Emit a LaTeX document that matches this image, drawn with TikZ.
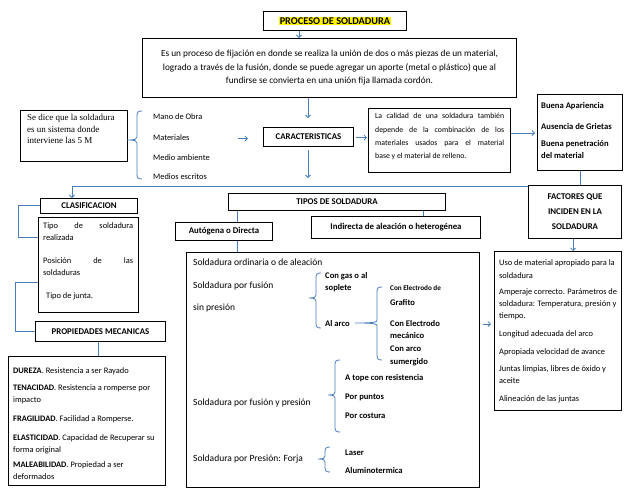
\documentclass[tikz,border=0pt]{standalone}
\usepackage{fontspec}
\setmainfont{Carlito}
\newfontfamily\serifm{Liberation Serif}
\usetikzlibrary{arrows.meta}
\definecolor{lnk}{RGB}{74,126,187}
\newcommand\mybrace[5]{%
  \draw[conn] ({#1+5},#2) .. controls ({#1+1},#2) and (#1,{#2+1}) .. (#1,{#2+5})
    -- (#1,{#3-3}) .. controls (#1,{#3-1}) and ({#1-1},#3) .. (#5,#3)
    .. controls ({#1-1},#3) and (#1,{#3+1}) .. (#1,{#3+3})
    -- (#1,{#4-5}) .. controls (#1,{#4-1}) and ({#1+1},#4) .. ({#1+5},#4);}
\begin{document}
\begin{tikzpicture}[x=1pt,y=-1pt,
  box/.style={draw=black,line width=1pt,inner sep=0pt,anchor=north west,align=center},
  conn/.style={draw=lnk,line width=0.8pt},
  arr/.style={conn,-{Straight Barb[length=2.5pt,width=5pt]}},
  tx/.style={anchor=base west,inner sep=0pt},
  hd/.style={font=\fontsize{8.8}{10}\selectfont\bfseries},
  bd/.style={font=\fontsize{9.5}{11}\selectfont},
  sm/.style={font=\fontsize{8.4}{10}\selectfont},
  sb/.style={font=\fontsize{8.6}{10}\selectfont\bfseries},
  cs/.style={font=\fontsize{7.8}{9}\selectfont},
]
\useasboundingbox (0,0) rectangle (638,493);

% ---------- top ----------
\node[box,minimum width=143pt,minimum height=19pt,font=\fontsize{10.3}{12}\selectfont\bfseries] (proc) at (263,11)
  {\setlength\fboxsep{0.6pt}\colorbox{yellow}{PROCESO DE SOLDADURA}};
\node[box,minimum width=374pt,minimum height=59pt,font=\fontsize{9.3}{13.5}\selectfont] (desc) at (142,38)
  {Es un proceso de fijación en donde se realiza la unión de dos o más piezas de un material,\\
   logrado a través de la fusión, donde se puede agregar un aporte (metal o plástico) que al\\
   fundirse se convierta en una unión fija llamada cordón.};

% ---------- 5M ----------
\node[box,minimum width=107pt,minimum height=51pt] (fivem) at (20,110) {};
\node[tx,font=\serifm\fontsize{9}{10}\selectfont] (fm1) at (27,120.5) {Se dice que la soldadura};
\node[tx,font=\serifm\fontsize{9}{10}\selectfont] (fm2) at (27,132) {es un sistema donde};
\node[tx,font=\serifm\fontsize{9}{10}\selectfont] (fm3) at (27,143.5) {interviene las 5 M};
\node[tx,sm] (m1) at (153,119.5) {Mano de Obra};
\node[tx,sm] (m2) at (153,140.5) {Materiales};
\node[tx,sm] (m3) at (153,160.5) {Medio ambiente};
\node[tx,sm] (m4) at (153,179.5) {Medios escritos};

% ---------- caracteristicas ----------
\node[box,minimum width=90pt,minimum height=19pt,hd] (carac) at (263,127) {CARACTERISTICAS};
\node[box,minimum width=142pt,minimum height=64pt] (cal) at (368,108) {};
\node[tx,cs] (cal1) at (375,118.5) {\makebox[129pt][s]{La calidad de una soldadura también}};
\node[tx,cs] (cal2) at (375,132) {\makebox[129pt][s]{depende de la combinación de los}};
\node[tx,cs] (cal3) at (375,145.5) {\makebox[129pt][s]{materiales usados para el material}};
\node[tx,cs] (cal4) at (375,158.5) {base y el material de relleno.};

\node[box,minimum width=85pt,minimum height=76pt] (buena) at (537,94) {};
\node[tx,sb] (b1) at (541,108) {Buena Apariencia};
\node[tx,sb] (b2) at (541,129) {Ausencia de Grietas};
\node[tx,sb] (b3) at (541,146) {Buena penetración};
\node[tx,sb] (b4) at (541,158.5) {del material};

\node[box,minimum width=93pt,minimum height=53pt,font=\fontsize{8.8}{15}\selectfont\bfseries] (fac) at (528,185)
  {FACTORES QUE\\INCIDEN EN LA\\SOLDADURA};

\node[box,minimum width=127pt,minimum height=159pt] (uso) at (494,251) {};
\node[tx,sm] (u1) at (499,265) {Uso de material apropiado para la};
\node[tx,sm] (u2) at (499,278) {soldadura};
\node[tx,sm] (u3) at (499,294.5) {Amperaje correcto. Parámetros de};
\node[tx,sm] (u4) at (499,306) {soldadura: Temperatura, presión y};
\node[tx,sm] (u5) at (499,318) {tiempo.};
\node[tx,sm] (u6) at (499,336) {Longitud adecuada del arco};
\node[tx,sm] (u7) at (499,354.5) {Apropiada velocidad de avance};
\node[tx,sm] (u8) at (499,371) {Juntas limpias, libres de óxido y};
\node[tx,sm] (u9) at (499,383.5) {aceite};
\node[tx,sm] (u10) at (499,401) {Alineación de las juntas};

% ---------- tipos ----------
\node[box,minimum width=217pt,minimum height=17pt,hd] (tipos) at (228,193) {TIPOS DE SOLDADURA};
\node[box,minimum width=97pt,minimum height=18pt,hd] (auto) at (175,222) {Autógena o Directa};
\node[box,minimum width=169pt,minimum height=22pt,hd] (indi) at (311,216) {Indirecta de aleación o heterogénea};
\node[box,minimum width=293pt,minimum height=235pt] (big) at (186,252) {};

\node[tx,bd] (s1) at (193,265) {Soldadura ordinaria o de aleación};
\node[tx,bd] (s2) at (193,288) {Soldadura por fusión};
\node[tx,bd] (s3) at (193,310) {sin presión};
\node[tx,sb] (g1) at (325,278) {Con gas o al};
\node[tx,sb] (g2) at (325,290) {soplete};
\node[tx,sb] (g3) at (325,326) {Al arco};
\node[tx,font=\fontsize{7.2}{8}\selectfont\bfseries] (e1) at (390,290) {Con Electrodo de};
\node[tx,sb] (e2) at (390,305) {Grafito};
\node[tx,sb] (e3) at (390,326) {Con Electrodo};
\node[tx,sb] (e4) at (390,338) {mecánico};
\node[tx,sb] (e5) at (390,351) {Con arco};
\node[tx,sb] (e6) at (390,364) {sumergido};
\node[tx,sb] (p1) at (345,380) {A tope con resistencia};
\node[tx,sb] (p2) at (345,399) {Por puntos};
\node[tx,sb] (p3) at (345,418) {Por costura};
\node[tx,bd] (s4) at (193,405) {Soldadura por fusión y presión};
\node[tx,bd] (s5) at (193,461) {Soldadura por Presión: Forja};
\node[tx,sb] (l1) at (345,455) {Laser};
\node[tx,sb] (l2) at (345,473) {Aluminotermica};

% ---------- clasificacion ----------
\node[box,minimum width=97pt,minimum height=15pt,hd] (clas) at (40,198) {CLASIFICACION};
\node[box,minimum width=100pt,minimum height=95pt] (clasc) at (38,217) {};
\node[tx,sm] (c1) at (43,228) {\makebox[90pt][s]{Tipo de soldadura}};
\node[tx,sm] (c2) at (43,240) {realizada};
\node[tx,sm] (c3) at (43,263) {\makebox[90pt][s]{Posición de las}};
\node[tx,sm] (c4) at (43,275) {soldaduras};
\node[tx,sm] (c5) at (46,298) {Tipo de junta.};

\node[box,minimum width=130pt,minimum height=20pt,hd] (prop) at (35,321) {PROPIEDADES MECANICAS};
\node[box,minimum width=157pt,minimum height=129pt] (propc) at (8,356) {};
\node[tx,sm] (r1) at (13,373) {\textbf{DUREZA}. Resistencia a ser Rayado};
\node[tx,sm] (r2) at (13,390) {\textbf{TENACIDAD}. Resistencia a romperse por};
\node[tx,sm] (r3) at (13,402.5) {impacto};
\node[tx,sm] (r4) at (13,421.5) {\textbf{FRAGILIDAD}. Facilidad a Romperse.};
\node[tx,sm] (r5) at (13,440) {\textbf{ELASTICIDAD}. Capacidad de Recuperar su};
\node[tx,sm] (r6) at (13,452) {forma original};
\node[tx,sm] (r7) at (13,467) {\textbf{MALEABILIDAD}. Propiedad a ser};
\node[tx,sm] (r8) at (13,479.5) {deformados};

% ---------- connectors ----------
\coordinate (a1) at (299,0);
\draw[arr] (proc.south -| a1) -- (desc.north -| a1);
\coordinate (a2) at (308,0);
\draw[arr,shorten >=9pt] (desc.south -| a2) -- (carac.north -| a2);
\coordinate (a3) at (308,178);
\draw[arr] (carac.south -| a3) ++(0,3) -- (a3);
\coordinate (ma) at (238,138.5);
\coordinate (mb) at (248,138.5);
\draw[arr] (ma) -- (mb);
\coordinate (a4) at (0,137.5);
\draw[arr,shorten <=2pt,shorten >=1pt] (carac.east |- a4) -- (cal.west |- a4);
\coordinate (a5) at (0,133);
\draw[arr,shorten >=2pt] (cal.east |- a5) -- (buena.west |- a5);
\coordinate (a6) at (580,0);
\draw[conn] (buena.south -| a6) -- (fac.north -| a6);
\coordinate (hl) at (72,186);
\draw[conn] (hl) -- (hl -| fac.west);
\draw[arr] (hl) -- (hl |- clas.north);
\coordinate (a7) at (573,0);
\draw[arr] (fac.south -| a7) -- (uso.north -| a7);
\coordinate (a8) at (0,324);
\draw[arr,shorten <=3pt,shorten >=3pt] (big.east |- a8) -- (uso.west |- a8);
% clasificacion brackets
\coordinate (k1) at (18,205);
\coordinate (k2) at (18,237);
\draw[conn] (clas.west |- k1) -- (k1) -- (k2) -- (clasc.west |- k2);
\coordinate (k3) at (15,282);
\coordinate (k4) at (15,331);
\draw[conn] (clasc.west |- k3) -- (k3) -- (k4) -- (prop.west |- k4);
\coordinate (a9) at (98,0);
\draw[conn] (prop.south -| a9) -- (propc.north -| a9);
% tipos
\coordinate (t1) at (237,0);
\draw[conn] (tipos.south -| t1) -- (auto.north -| t1);
\draw[conn] (auto.south -| t1) -- (big.north -| t1);
\coordinate (t2) at (423,0);
\draw[conn] (tipos.south -| t2) -- (indi.north -| t2);

% braces
\mybrace{137}{111}{140}{179}{127}
\mybrace{316}{273}{298}{328}{309}
\mybrace{377}{287}{323}{360}{355}
\mybrace{335}{360}{395}{432}{328}
\mybrace{325}{447}{459}{472}{318}
\end{tikzpicture}
\end{document}
